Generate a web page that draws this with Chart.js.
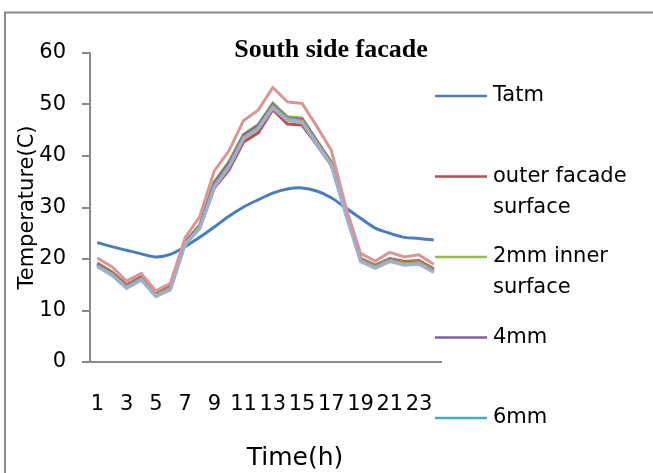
<!DOCTYPE html>
<html lang="en">
<head>
  <meta charset="UTF-8" />
  <title>South side facade</title>
  <script src="https://cdn.jsdelivr.net/npm/chart.js"></script>
  <style>
    html, body {
      margin: 0;
      padding: 0;
      background: #fff;
      overflow: hidden;
    }
    canvas {
      display: block;
    }
  </style>
</head>
<body>
  <canvas id="lineChart" width="653" height="473"></canvas>

  <script>
    // hours of the day
    const hours = [1, 2, 3, 4, 5, 6, 7, 8, 9, 10, 11, 12, 13, 14, 15, 16, 17, 18, 19, 20, 21, 22, 23, 24];
    const yTicks = [0, 10, 20, 30, 40, 50, 60];

    // temperatures (C)
    const tatm = [23.2, 22.4, 21.7, 21.0, 20.4, 20.9, 22.4, 24.2, 26.2, 28.3, 30.1, 31.5, 32.8, 33.6, 33.8, 33.2, 31.9, 29.9, 27.9, 26.0, 25.0, 24.2, 24.0, 23.7];
    const outerFacade = [19.2, 17.5, 15.0, 16.6, 13.4, 14.7, 23.2, 26.0, 33.8, 37.3, 42.7, 44.5, 49.0, 46.2, 46.0, 42.2, 38.2, 28.9, 20.1, 18.8, 20.1, 19.5, 19.7, 18.1];
    const inner2mm = [19.1, 17.4, 14.9, 16.5, 13.2, 14.5, 23.3, 26.6, 35.0, 38.9, 44.2, 46.1, 50.3, 47.6, 47.4, 43.1, 38.8, 29.0, 20.0, 18.7, 20.0, 19.3, 19.5, 17.9];
    const inner4mm = [19.0, 17.3, 14.8, 16.4, 13.1, 14.4, 23.2, 26.4, 34.7, 38.6, 44.0, 45.9, 50.0, 47.4, 47.1, 42.9, 38.7, 28.9, 19.9, 18.6, 19.9, 19.2, 19.4, 17.8];
    const inner6mm = [18.8, 17.1, 14.6, 16.2, 13.0, 14.3, 23.0, 26.2, 34.3, 38.2, 43.7, 45.6, 49.7, 47.3, 46.9, 42.7, 38.5, 28.8, 19.8, 18.5, 19.8, 19.1, 19.3, 17.7];
    const inner8mm = [18.7, 17.0, 14.5, 16.1, 12.9, 14.2, 22.9, 26.1, 34.1, 38.0, 43.5, 45.4, 49.5, 47.1, 46.7, 42.5, 38.4, 28.7, 19.7, 18.4, 19.7, 19.0, 19.2, 17.6];
    const inner10mm = [18.5, 16.8, 14.3, 15.9, 12.7, 14.0, 22.7, 25.9, 33.9, 37.8, 43.3, 45.2, 49.3, 46.9, 46.5, 42.3, 38.2, 28.5, 19.5, 18.2, 19.5, 18.8, 19.0, 17.4];
    const inner12mm = [20.2, 18.5, 15.7, 17.2, 13.8, 15.3, 24.1, 28.2, 37.1, 41.0, 46.9, 48.9, 53.3, 50.5, 50.2, 45.8, 41.1, 30.0, 21.1, 19.6, 21.3, 20.4, 20.8, 19.0];

    const seriesNames = ['Tatm', 'outer facade surface', '2mm inner surface', '4mm', '6mm', '8mm', '10mm', '12mm'];
    const seriesData = [tatm, outerFacade, inner2mm, inner4mm, inner6mm, inner8mm, inner10mm, inner12mm];
    const seriesColors = ['#4a7ebb', '#be4b48', '#98b954', '#7d60a0', '#46aac5', '#f69240', '#95b3d7', '#d99694'];

    const FONT = "'DejaVu Sans', sans-serif";

    // frame, title, x axis title and the (cut off) legend
    const decorations = {
      id: 'decorations',
      beforeDraw(chart) {
        const ctx = chart.ctx;
        ctx.save();
        ctx.fillStyle = '#fff';
        ctx.fillRect(0, 0, chart.width, chart.height);
        // only the left and top edges of the frame are in view
        ctx.strokeStyle = '#8a8a8a';
        ctx.lineWidth = 2;
        ctx.beginPath();
        ctx.moveTo(5, chart.height + 5);
        ctx.lineTo(5, 12.5);
        ctx.lineTo(chart.width + 5, 12.5);
        ctx.stroke();
        ctx.restore();
      },
      afterDraw(chart) {
        const ctx = chart.ctx;
        ctx.save();
        ctx.fillStyle = '#000';

        ctx.font = "bold 26px 'Liberation Serif', serif";
        ctx.textAlign = 'center';
        ctx.textBaseline = 'alphabetic';
        ctx.fillText('South side facade', 331, 57);

        ctx.font = '25px ' + FONT;
        ctx.textBaseline = 'middle';
        ctx.fillText('Time(h)', 295, 458);

        // only the first five entries fit in the original legend
        ctx.font = '21px ' + FONT;
        ctx.textAlign = 'left';
        chart.data.datasets.slice(0, 5).forEach((ds, i) => {
          const y = 96 + i * 80.5;
          ctx.strokeStyle = ds.borderColor;
          ctx.lineWidth = 2.5;
          ctx.beginPath();
          ctx.moveTo(435, y);
          ctx.lineTo(487, y);
          ctx.stroke();

          const words = ds.label.split(' ');
          const lines = [];
          let cur = '';
          words.forEach(w => {
            const test = cur ? cur + ' ' + w : w;
            if (cur && ctx.measureText(test).width > 150) {
              lines.push(cur);
              cur = w;
            } else {
              cur = test;
            }
          });
          lines.push(cur);
          lines.forEach((t, k) => ctx.fillText(t, 493, y + k * 31));
        });
        ctx.restore();
      }
    };

    new Chart(document.getElementById('lineChart'), {
      type: 'line',
      data: {
        labels: hours,
        datasets: seriesData.map((d, i) => ({
          label: seriesNames[i],
          data: d,
          borderColor: seriesColors[i],
          backgroundColor: seriesColors[i],
          borderWidth: 3,
          pointRadius: 0,
          fill: false,
          tension: i === 0 ? 0.3 : 0,
          order: seriesData.length - i
        }))
      },
      options: {
        responsive: false,
        animation: false,
        layout: {
          padding: { top: 53, right: 212, left: 0, bottom: 0 }
        },
        plugins: {
          legend: { display: false },
          title: { display: false },
          tooltip: { enabled: false }
        },
        scales: {
          x: {
            offset: true,
            grid: { display: false, drawTicks: false },
            border: { display: true, color: '#8a8a8a', width: 2 },
            ticks: {
              autoSkip: false,
              maxRotation: 0,
              padding: 30,
              color: '#000',
              font: { family: FONT, size: 21 },
              callback: function (v, i) {
                return i % 2 === 0 ? String(hours[i]) : '';
              }
            },
            afterFit(scale) { scale.height = 111; }
          },
          y: {
            min: yTicks[0],
            max: yTicks[yTicks.length - 1],
            afterBuildTicks(scale) {
              scale.ticks = yTicks.map(v => ({ value: v }));
            },
            grid: { drawOnChartArea: false, drawTicks: true, tickLength: 8, color: '#8a8a8a', lineWidth: 2 },
            border: { display: true, color: '#8a8a8a', width: 2 },
            ticks: {
              padding: 16,
              color: '#000',
              font: { family: FONT, size: 21 }
            },
            title: {
              display: true,
              text: 'Temperature(C)',
              color: '#000',
              font: { family: FONT, size: 21 },
              padding: { top: 15, bottom: 0 }
            },
            afterFit(scale) { scale.width = 90; }
          }
        }
      },
      plugins: [decorations]
    });
  </script>
</body>
</html>
